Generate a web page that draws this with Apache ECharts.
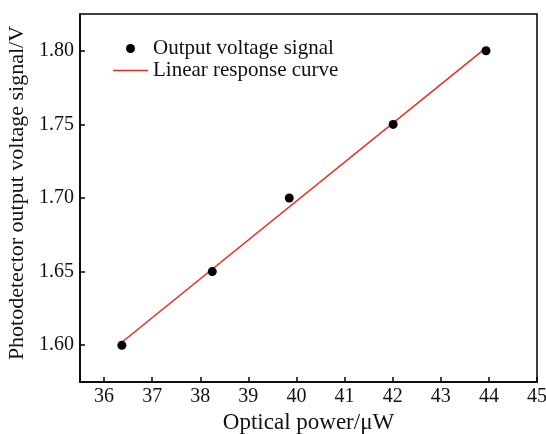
<!DOCTYPE html>
<html><head><meta charset="utf-8">
<script src="https://cdn.jsdelivr.net/npm/echarts@6/dist/echarts.min.js"></script>
<style>html,body{margin:0;padding:0;background:#fff}#c{width:546px;height:434px}</style>
</head><body><div id="c"></div>
<script>
const powerX = [36.37, 38.25, 39.85, 42.01, 43.94];
const voltageY = [1.60, 1.65, 1.70, 1.75, 1.80];
const fitX = [36.37, 43.94];
const fitY = [1.602, 1.802];
const xTicks = [36, 37, 38, 39, 40, 41, 42, 43, 44, 45];
const yTicks = [1.60, 1.65, 1.70, 1.75, 1.80];

const font = 'Liberation Serif';
const chart = echarts.init(document.getElementById('c'));
chart.setOption({
  animation: false,
  backgroundColor: '#fff',
  grid: { left: 80, right: 9, top: 14, bottom: 52, outerBoundsMode: 'none', containLabel: false,
          show: true, borderColor: '#000', borderWidth: 1.5, backgroundColor: 'transparent' },
  legend: {
    orient: 'vertical', left: 113, top: 38, padding: 0, itemWidth: 35, itemHeight: 9, itemGap: 1,
    textStyle: { fontFamily: font, fontSize: 21, color: '#111' },
    data: [
      { name: 'Output voltage signal', icon: 'circle', itemStyle: { opacity: 1 } },
      { name: 'Linear response curve', icon: 'path://M0,0L36,0L36,1.5L0,1.5Z' }
    ]
  },
  xAxis: {
    type: 'value', min: 35.5, max: 45,
    name: 'Optical power/μW', nameLocation: 'middle', nameGap: 21,
    nameTextStyle: { fontFamily: font, fontSize: 23, color: '#111' },
    axisLine: { lineStyle: { color: '#000', width: 1.5 } },
    axisTick: { inside: true, length: 5, lineStyle: { color: '#000', width: 1.5 }, customValues: xTicks },
    axisLabel: { fontFamily: font, fontSize: 20, color: '#111', margin: 5, customValues: xTicks },
    splitLine: { show: false }
  },
  yAxis: {
    type: 'value', min: 1.575, max: 1.825,
    name: 'Photodetector output voltage signal/V', nameLocation: 'middle', nameGap: 48,
    nameTextStyle: { fontFamily: font, fontSize: 22, color: '#111', padding: [0, 0, 0, 10] },
    axisLine: { lineStyle: { color: '#000', width: 1.5 } },
    axisTick: { inside: true, length: 5, lineStyle: { color: '#000', width: 1.5 }, customValues: yTicks },
    axisLabel: { fontFamily: font, fontSize: 20, color: '#111', margin: 6, customValues: yTicks, formatter: v => v.toFixed(2) },
    splitLine: { show: false }
  },
  series: [
    { name: 'Output voltage signal', type: 'scatter', symbol: 'circle', symbolSize: 9, itemStyle: { color: '#000', opacity: 1 }, z: 3,
      data: powerX.map((x, i) => [x, voltageY[i]]) },
    { name: 'Linear response curve', type: 'line', symbol: 'none', lineStyle: { color: '#ee2a1b', width: 1.5 }, itemStyle: { color: '#ee2a1b' }, z: 2,
      data: fitX.map((x, i) => [x, fitY[i]]) }
  ]
});
</script></body></html>
